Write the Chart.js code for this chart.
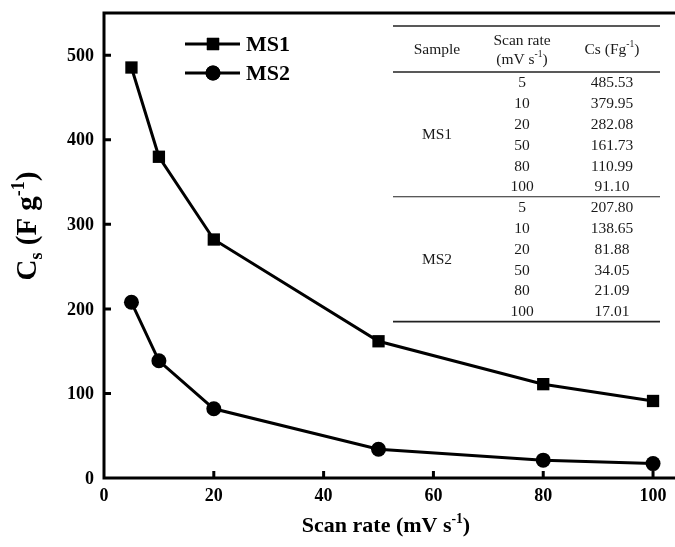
<!DOCTYPE html>
<html>
<head>
<meta charset="utf-8">
<script src="https://cdn.jsdelivr.net/npm/chart.js@4/dist/chart.umd.min.js"></script>
<style>
  html, body { margin: 0; padding: 0; background: #fff; overflow: hidden; }
  canvas { display: block; }
</style>
</head>
<body>
<canvas id="c" width="675" height="547"></canvas>
<script>
// Scan rates (mV s-1) and specific capacitance (F g-1)
const scanRates = [5, 10, 20, 50, 80, 100];
const ms1 = [485.53, 379.95, 282.08, 161.73, 110.99, 91.10];
const ms2 = [207.80, 138.65, 81.88, 34.05, 21.09, 17.01];
const seriesNames = ['MS1', 'MS2'];
const xTicks = [0, 20, 40, 60, 80, 100];
const yTicks = [0, 100, 200, 300, 400, 500];

const SERIF = '"Liberation Serif", "Times New Roman", serif';

// Draws a run of text pieces where some are sub/superscripts.
function richWidth(ctx, parts, size, weight) {
  let w = 0;
  for (const p of parts) {
    const s = p.k === 'n' ? size : size * 0.62;
    ctx.font = `${weight} ${s}px ${SERIF}`;
    w += ctx.measureText(p.t).width;
  }
  return w;
}
function drawRich(ctx, parts, x, y, size, weight, align) {
  const w = richWidth(ctx, parts, size, weight);
  let cx = align === 'center' ? x - w / 2 : (align === 'right' ? x - w : x);
  ctx.textAlign = 'left';
  ctx.textBaseline = 'alphabetic';
  for (const p of parts) {
    const s = p.k === 'n' ? size : size * 0.62;
    ctx.font = `${weight} ${s}px ${SERIF}`;
    let dy = 0;
    if (p.k === 'sup') dy = -size * 0.42;
    if (p.k === 'sub') dy = size * 0.22;
    ctx.fillText(p.t, cx, y + dy);
    cx += ctx.measureText(p.t).width;
  }
}

const decorations = {
  id: 'decorations',
  afterDraw(chart) {
    const ctx = chart.ctx;
    const a = chart.chartArea;
    const xs = chart.scales.x, ys = chart.scales.y;
    ctx.save();
    ctx.strokeStyle = '#000';
    ctx.fillStyle = '#000';

    // frame: top, left, bottom
    ctx.lineWidth = 3;
    ctx.beginPath();
    ctx.moveTo(chart.width + 5, a.top);
    ctx.lineTo(a.left, a.top);
    ctx.lineTo(a.left, a.bottom);
    ctx.lineTo(chart.width + 5, a.bottom);
    ctx.stroke();

    // inward tick marks and tick labels
    const tl = 7;
    ctx.beginPath();
    ctx.font = `bold 18px ${SERIF}`;
    ctx.textAlign = 'center';
    ctx.textBaseline = 'middle';
    for (const v of xTicks) {
      const px = xs.getPixelForValue(v);
      ctx.fillText(String(v), px, a.bottom + 18);
      if (v === 0) continue;
      ctx.moveTo(px, a.bottom);
      ctx.lineTo(px, a.bottom - tl);
    }
    ctx.textAlign = 'right';
    for (const v of yTicks) {
      const py = ys.getPixelForValue(v);
      ctx.fillText(String(v), a.left - 10, py + 1);
      if (v === 0) continue;
      ctx.moveTo(a.left, py);
      ctx.lineTo(a.left + tl, py);
    }
    ctx.stroke();

    // axis titles
    drawRich(ctx, [{t: 'Scan rate (mV s', k: 'n'}, {t: '-1', k: 'sup'}, {t: ')', k: 'n'}],
      386, 532, 22, 'bold', 'center');
    ctx.save();
    ctx.translate(36, 226);
    ctx.rotate(-Math.PI / 2);
    drawRich(ctx, [{t: 'C', k: 'n'}, {t: 's', k: 'sub'}, {t: ' (F g', k: 'n'}, {t: '-1', k: 'sup'}, {t: ')', k: 'n'}],
      0, 0, 29, 'bold', 'center');
    ctx.restore();

    // legend
    const legendRows = [{y: 44, style: 'rect'}, {y: 73, style: 'circle'}];
    legendRows.forEach((r, i) => {
      ctx.lineWidth = 3;
      ctx.beginPath();
      ctx.moveTo(185, r.y);
      ctx.lineTo(240, r.y);
      ctx.stroke();
      Chart.helpers.drawPoint(ctx, {pointStyle: r.style, radius: r.style === 'rect' ? 8.7 : 7.5, borderWidth: 0}, 213, r.y);
      ctx.fill();
      ctx.font = `bold 22px ${SERIF}`;
      ctx.textAlign = 'left';
      ctx.textBaseline = 'middle';
      ctx.fillText(seriesNames[i], 246, r.y + 1);
    });

    // data table
    const tx0 = 393, tx1 = 660;
    const colX = [437, 522, 612];
    const top = 26, headBottom = 72, rowH = 20.8;
    const sepY = headBottom + rowH * scanRates.length;
    const botY = sepY + rowH * scanRates.length;
    ctx.strokeStyle = '#222';
    ctx.lineWidth = 1.6;
    [top, headBottom, botY].forEach(y => {
      ctx.beginPath(); ctx.moveTo(tx0, y); ctx.lineTo(tx1, y); ctx.stroke();
    });
    ctx.lineWidth = 1.1;
    ctx.beginPath(); ctx.moveTo(tx0, sepY); ctx.lineTo(tx1, sepY); ctx.stroke();

    ctx.fillStyle = '#1a1a1a';
    const fs = 15.5;
    drawRich(ctx, [{t: 'Sample', k: 'n'}], colX[0], 54, fs, 'normal', 'center');
    drawRich(ctx, [{t: 'Scan rate', k: 'n'}], colX[1], 45, fs, 'normal', 'center');
    drawRich(ctx, [{t: '(mV s', k: 'n'}, {t: '-1', k: 'sup'}, {t: ')', k: 'n'}], colX[1], 64, fs, 'normal', 'center');
    drawRich(ctx, [{t: 'Cs (Fg', k: 'n'}, {t: '-1', k: 'sup'}, {t: ')', k: 'n'}], colX[2], 54, fs, 'normal', 'center');

    [ms1, ms2].forEach((vals, b) => {
      const y0 = headBottom + b * rowH * scanRates.length;
      const mid = y0 + rowH * scanRates.length / 2;
      drawRich(ctx, [{t: seriesNames[b], k: 'n'}], colX[0], mid + 5, fs, 'normal', 'center');
      scanRates.forEach((r, i) => {
        const cy = y0 + rowH * (i + 0.5) + 5;
        drawRich(ctx, [{t: String(r), k: 'n'}], colX[1], cy, fs, 'normal', 'center');
        drawRich(ctx, [{t: vals[i].toFixed(2), k: 'n'}], colX[2], cy, fs, 'normal', 'center');
      });
    });
    ctx.restore();
  }
};

const toXY = vals => scanRates.map((x, i) => ({x, y: vals[i]}));

new Chart(document.getElementById('c'), {
  type: 'line',
  data: {
    datasets: [
      {
        label: seriesNames[0], data: toXY(ms1),
        borderColor: '#000', backgroundColor: '#000', borderWidth: 3,
        pointStyle: 'rect', pointRadius: 8.7, pointBorderWidth: 0, tension: 0
      },
      {
        label: seriesNames[1], data: toXY(ms2),
        borderColor: '#000', backgroundColor: '#000', borderWidth: 3,
        pointStyle: 'circle', pointRadius: 7.5, pointBorderWidth: 0, tension: 0
      }
    ]
  },
  options: {
    responsive: false,
    animation: false,
    layout: { autoPadding: false, padding: { top: 13, left: 0, right: 0, bottom: 0 } },
    plugins: { legend: { display: false }, tooltip: { enabled: false } },
    scales: {
      x: {
        type: 'linear', min: 0, max: 104,
        afterBuildTicks: s => { s.ticks = xTicks.map(v => ({value: v})); },
        afterFit: s => { s.height = 69; },
        grid: { display: false, drawTicks: false },
        border: { display: false },
        ticks: { display: false }
      },
      y: {
        type: 'linear', min: 0, max: 550,
        afterBuildTicks: s => { s.ticks = yTicks.map(v => ({value: v})); },
        afterFit: s => { s.width = 104; },
        grid: { display: false, drawTicks: false },
        border: { display: false },
        ticks: { display: false }
      }
    }
  },
  plugins: [decorations]
});
</script>
</body>
</html>
